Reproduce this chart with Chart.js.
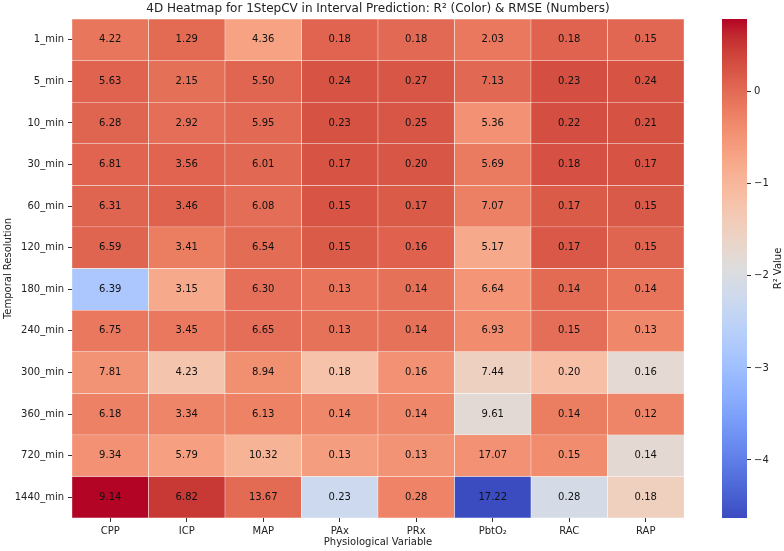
<!DOCTYPE html>
<html>
<head>
<meta charset="utf-8">
<script src="https://cdn.jsdelivr.net/npm/chart.js@4/dist/chart.umd.min.js"></script>
<style>
  html, body { margin: 0; padding: 0; background: #fff; }
  #wrap { width: 784px; height: 551px; }
</style>
</head>
<body>
<div id="wrap"><canvas id="heatmap" width="784" height="551"></canvas></div>
<script>
// categories
const variables = ['CPP', 'ICP', 'MAP', 'PAx', 'PRx', 'PbtO₂', 'RAC', 'RAP'];
const resolutions = ['1_min', '5_min', '10_min', '30_min', '60_min', '120_min',
  '180_min', '240_min', '300_min', '360_min', '720_min', '1440_min'];

// R² per row (colour)
const r2 = [
  [-0.13, 0.00, -0.68, 0.07, 0.02, -0.15, 0.08, 0.04],
  [0.08, -0.06, 0.05, 0.25, 0.22, 0.03, 0.30, 0.25],
  [0.06, -0.04, 0.02, 0.26, 0.22, -0.45, 0.30, 0.26],
  [0.07, 0.07, 0.03, 0.24, 0.22, -0.18, 0.27, 0.24],
  [0.06, 0.09, -0.02, 0.23, 0.17, -0.24, 0.17, 0.18],
  [0.06, -0.20, -0.01, 0.17, 0.10, -0.78, 0.20, 0.06],
  [-2.82, -0.78, -0.05, -0.10, -0.07, -0.50, 0.00, -0.10],
  [-0.15, -0.15, -0.04, -0.08, -0.08, -0.38, -0.04, -0.34],
  [-0.48, -1.24, -0.42, -1.20, -0.45, -1.52, -1.15, -1.78],
  [-0.25, -0.30, -0.26, -0.33, -0.33, -1.80, -0.20, -0.30],
  [-0.45, -0.65, -0.93, -0.62, -0.48, -0.45, -0.38, -1.77],
  [0.79, 0.50, 0.00, -2.25, -0.28, -4.63, -2.09, -1.48],
];

// RMSE per row (numbers in cells)
const rmse = [
  [4.22, 1.29, 4.36, 0.18, 0.18, 2.03, 0.18, 0.15],
  [5.63, 2.15, 5.50, 0.24, 0.27, 7.13, 0.23, 0.24],
  [6.28, 2.92, 5.95, 0.23, 0.25, 5.36, 0.22, 0.21],
  [6.81, 3.56, 6.01, 0.17, 0.20, 5.69, 0.18, 0.17],
  [6.31, 3.46, 6.08, 0.15, 0.17, 7.07, 0.17, 0.15],
  [6.59, 3.41, 6.54, 0.15, 0.16, 5.17, 0.17, 0.15],
  [6.39, 3.15, 6.30, 0.13, 0.14, 6.64, 0.14, 0.14],
  [6.75, 3.45, 6.65, 0.13, 0.14, 6.93, 0.15, 0.13],
  [7.81, 4.23, 8.94, 0.18, 0.16, 7.44, 0.20, 0.16],
  [6.18, 3.34, 6.13, 0.14, 0.14, 9.61, 0.14, 0.12],
  [9.34, 5.79, 10.32, 0.13, 0.13, 17.07, 0.15, 0.14],
  [9.14, 6.82, 13.67, 0.23, 0.28, 17.22, 0.28, 0.18],
];

const colorbarTicks = [-4, -3, -2, -1, 0];
const vmin = -4.63;
const vmax = 0.79;

// coolwarm (Moreland) lookup table, 33 entries
const coolwarm = [
  [59, 76, 192], [68, 90, 204], [77, 104, 215], [87, 117, 225], [98, 130, 234],
  [108, 142, 241], [119, 154, 247], [130, 165, 251], [141, 176, 254], [152, 185, 255],
  [163, 194, 255], [174, 201, 253], [184, 208, 249], [194, 213, 244], [204, 217, 238],
  [213, 219, 230], [221, 221, 221], [229, 216, 209], [236, 211, 197], [241, 204, 185],
  [245, 196, 173], [247, 187, 160], [247, 177, 148], [247, 166, 135], [244, 154, 123],
  [241, 141, 111], [236, 127, 99], [229, 112, 88], [222, 96, 77], [213, 80, 66],
  [203, 62, 56], [192, 40, 47], [180, 4, 38],
];

const cmap = (t) => {
  t = Math.min(1, Math.max(0, t));
  const pos = t * (coolwarm.length - 1);
  const i = Math.min(coolwarm.length - 2, Math.floor(pos));
  const f = pos - i;
  const a = coolwarm[i], b = coolwarm[i + 1];
  const c = a.map((v, k) => Math.round(v + (b[k] - v) * f));
  return `rgb(${c[0]}, ${c[1]}, ${c[2]})`;
};
const colorFor = (v) => cmap((v - vmin) / (vmax - vmin));

const TEXT = '#222';
Chart.defaults.font.family = '"DejaVu Sans", sans-serif';
Chart.defaults.font.size = 10;
Chart.defaults.color = TEXT;

const datasets = resolutions.map((name, i) => ({
  label: name,
  data: variables.map(() => [i - 0.5, i + 0.5]),
  backgroundColor: r2[i].map(colorFor),
  borderColor: 'rgba(255,255,255,0.9)',
  borderWidth: 0.5,
  borderSkipped: false,
  grouped: false,
  barPercentage: 1,
  categoryPercentage: 1,
}));

const cellText = {
  id: 'cellText',
  afterDatasetsDraw(chart) {
    const ctx = chart.ctx;
    ctx.save();
    ctx.font = '10px "DejaVu Sans"';
    ctx.fillStyle = '#111';
    ctx.textAlign = 'center';
    ctx.textBaseline = 'middle';
    chart.data.datasets.forEach((ds, i) => {
      chart.getDatasetMeta(i).data.forEach((bar, j) => {
        ctx.fillText(rmse[i][j].toFixed(2), bar.x, (bar.y + bar.base) / 2);
      });
    });
    ctx.restore();
  },
};

const colorbar = {
  id: 'colorbar',
  afterDraw(chart) {
    const { ctx, chartArea } = chart;
    const scale = chart.scales.cb;
    const x0 = 722, w = 25;
    ctx.save();
    // hide the long tick stubs, leaving only the part right of the bar
    ctx.fillStyle = '#fff';
    ctx.fillRect(chartArea.right, chartArea.top - 2, x0 - chartArea.right, chartArea.bottom - chartArea.top + 4);
    const top = scale.getPixelForValue(vmax);
    const bottom = scale.getPixelForValue(vmin);
    const grad = ctx.createLinearGradient(0, bottom, 0, top);
    coolwarm.forEach((c, k) => grad.addColorStop(k / (coolwarm.length - 1), `rgb(${c[0]}, ${c[1]}, ${c[2]})`));
    ctx.fillStyle = grad;
    ctx.fillRect(x0, top, w, bottom - top);

    ctx.fillStyle = TEXT;
    ctx.font = '10px "DejaVu Sans"';
    ctx.textAlign = 'center';
    ctx.textBaseline = 'middle';
    ctx.translate(778, (top + bottom) / 2);
    ctx.rotate(-Math.PI / 2);
    ctx.fillText('R² Value', 0, 0);
    ctx.restore();

    // title, centred over the heatmap
    ctx.save();
    ctx.fillStyle = TEXT;
    ctx.font = '12px "DejaVu Sans"';
    ctx.textAlign = 'center';
    ctx.textBaseline = 'middle';
    ctx.fillText('4D Heatmap for 1StepCV in Interval Prediction: R² (Color) & RMSE (Numbers)',
      (chartArea.left + chartArea.right) / 2, 9);
    ctx.restore();
  },
};

new Chart(document.getElementById('heatmap'), {
  type: 'bar',
  data: { labels: variables, datasets },
  plugins: [cellText, colorbar],
  options: {
    responsive: false,
    animation: false,
    devicePixelRatio: 1,
    layout: { padding: { top: 19, right: 0, bottom: 0, left: 0 } },
    plugins: {
      legend: { display: false },
      tooltip: { enabled: false },
      title: { display: false },
    },
    scales: {
      x: {
        type: 'category',
        offset: true,
        grid: { offset: false, drawOnChartArea: false, tickLength: 4, color: '#333' },
        border: { display: false },
        ticks: { padding: 3, maxRotation: 0 },
        title: { display: true, text: 'Physiological Variable', padding: { top: 0, bottom: 3 } },
        afterFit: (s) => { s.height = 33; },
      },
      y: {
        type: 'linear',
        reverse: true,
        min: -0.5,
        max: resolutions.length - 0.5,
        afterBuildTicks: (s) => { s.ticks = resolutions.map((_, i) => ({ value: i })); },
        ticks: { padding: 4, callback: (v) => resolutions[v] },
        grid: { drawOnChartArea: false, tickLength: 4, color: '#333' },
        border: { display: false },
        title: { display: true, text: 'Temporal Resolution', padding: { top: 2, bottom: 0 } },
        afterFit: (s) => { s.width = 72; },
      },
      cb: {
        type: 'linear',
        axis: 'y',
        position: 'right',
        min: vmin,
        max: vmax,
        afterBuildTicks: (s) => { s.ticks = colorbarTicks.map((v) => ({ value: v })); },
        ticks: { padding: 3, callback: (v) => (v < 0 ? '−' + Math.abs(v) : String(v)) },
        grid: { drawOnChartArea: false, tickLength: 29 + 38, color: '#333' },
        border: { display: false },
        afterFit: (s) => { s.width = 100; },
      },
    },
  },
});
</script>
</body>
</html>
